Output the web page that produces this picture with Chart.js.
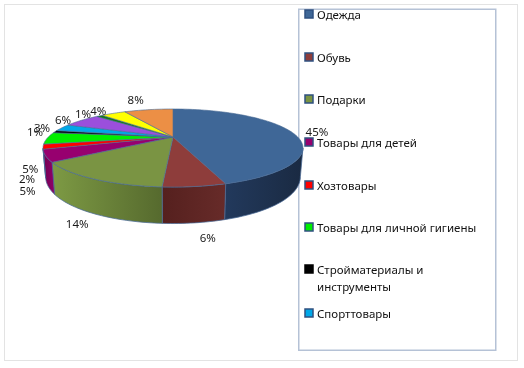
<!DOCTYPE html>
<html><head><meta charset="utf-8">
<style>html,body{margin:0;padding:0;background:#fff}#w{position:relative;width:524px;height:368px}canvas{display:block}</style>
<script src="https://cdn.jsdelivr.net/npm/chart.js@4"></script></head>
<body><div id="w"><canvas id="c" width="524" height="368"></canvas></div>
<script>
const values=[45,6,14,5,2,5,1,3,6,1,4,8];
const legendLabels=['Одежда','Обувь','Подарки','Товары для детей','Хозтовары','Товары для личной гигиены',['Стройматериалы и','инструменты'],'Спорттовары'];
const topColors=['#3f6797','#8e3d3b','#7a9443','#97006f','#ff0000','#00ee00','#000000','#00a8e8','#9b4fdc','#157a15','#ffff00','#ec8f45'];
const sideLight=['#22395c','#672b29','#7d9a44','#8a0066','#d00000','#00c000','#000000','#0088c0','#7a3cb0','#106010','#d0d000','#c07030'];
const sideDark=['#1a2a42','#55201e','#566a2e','#70004f','#b00000','#00a000','#000000','#0070a0','#602c90','#0c500c','#b0b000','#a06020'];
const legendSwatches=topColors.slice(0,8);
const labelNudge=[[26,1],[13,52],[-16,46],[-18,36],[-16,33],[-17,32],[-20,1],[-20,1],[-18.5,0],[-16.5,-1],[-15,-2],[-13,-9]];
const TILT=0.288,PERSP=0.282,DROP=25.5,DROP_FRONT=11,SHRINK=0.98,FONT='11.5px "Noto Sans"';
const WALL_FROM=Math.asin(PERSP),WALL_TO=Math.PI-WALL_FROM;

function proj(arc,a){
  const v=Math.sin(a),s=1/(1-PERSP*v),R=arc.outerRadius;
  return [arc.x+R*Math.cos(a)*s, arc.y+R*TILT*v*s];
}
function projBase(arc,a){
  const p=proj(arc,a),v=Math.sin(a);
  return [arc.x+(p[0]-arc.x)*SHRINK, p[1]+DROP+DROP_FRONT*v];
}
function sweep(a0,a1){
  const n=Math.max(3,Math.ceil((a1-a0)*40)),o=[];
  for(let i=0;i<=n;i++)o.push(a0+(a1-a0)*i/n);
  return o;
}
const pie3d={
  id:'pie3d',
  beforeDatasetDraw(chart){
    const ctx=chart.ctx,arcs=chart.getDatasetMeta(0).data;
    ctx.save();
    ctx.lineJoin='round';
    // walls: only the part of the rim that faces the viewer
    arcs.forEach((arc,i)=>{
      const a0=Math.max(arc.startAngle,WALL_FROM),a1=Math.min(arc.endAngle,WALL_TO);
      if(a1<=a0)return;
      const as=sweep(a0,a1),t=as.map(a=>proj(arc,a)),b=as.map(a=>projBase(arc,a));
      const xs=t.map(p=>p[0]),g=ctx.createLinearGradient(Math.min(...xs),0,Math.max(...xs),0);
      g.addColorStop(0,i===0?sideLight[i]:(i===2?sideLight[i]:sideDark[i]));
      g.addColorStop(1,i===0?sideDark[i]:(i===2?sideDark[i]:sideLight[i]));
      ctx.beginPath();
      t.forEach((p,j)=>j?ctx.lineTo(p[0],p[1]):ctx.moveTo(p[0],p[1]));
      b.reverse().forEach(p=>ctx.lineTo(p[0],p[1]));
      ctx.closePath();
      ctx.fillStyle=g;ctx.fill();
      ctx.strokeStyle='rgba(74,106,149,0.75)';ctx.lineWidth=1;ctx.stroke();
    });
    // top faces
    arcs.forEach((arc,i)=>{
      ctx.beginPath();ctx.moveTo(arc.x,arc.y);
      sweep(arc.startAngle,arc.endAngle).forEach(a=>{const p=proj(arc,a);ctx.lineTo(p[0],p[1]);});
      ctx.closePath();
      ctx.fillStyle=topColors[i];ctx.fill();
      ctx.strokeStyle='rgba(74,106,149,0.6)';ctx.lineWidth=1;ctx.stroke();
    });
    // labels
    ctx.fillStyle='#1a1a1a';ctx.font=FONT;ctx.textAlign='center';ctx.textBaseline='middle';
    arcs.forEach((arc,i)=>{
      const p=proj(arc,(arc.startAngle+arc.endAngle)/2);
      ctx.fillText(values[i]+'%',p[0]+labelNudge[i][0],p[1]+labelNudge[i][1]);
    });
    ctx.restore();
    return false;
  },
  beforeDraw(chart){
    const ctx=chart.ctx;
    ctx.save();
    ctx.fillStyle='#fff';ctx.fillRect(0,0,524,368);
    ctx.strokeStyle='#e3e3e3';ctx.lineWidth=1;ctx.strokeRect(4.5,4.5,513,356);
    ctx.strokeStyle='#b5c2d6';ctx.lineWidth=1.5;ctx.strokeRect(298.75,9.25,197,341);
    ctx.restore();
  },
  afterDraw(chart){
    const ctx=chart.ctx,rows=[14,57,99,142,185,227,269,313];
    ctx.save();
    ctx.font=FONT;ctx.textBaseline='middle';ctx.textAlign='left';
    legendLabels.forEach((l,i)=>{
      const y=rows[i];
      ctx.fillStyle=legendSwatches[i];ctx.fillRect(305,y-4,8,8);
      ctx.strokeStyle=i===6?'#000':'#2f5080';ctx.lineWidth=1.5;ctx.strokeRect(305,y-4,8,8);
      ctx.fillStyle='#111';
      [].concat(l).forEach((s,j)=>ctx.fillText(s,317,y+2+j*16.5));
    });
    ctx.restore();
  }
};
new Chart(document.getElementById('c'),{
  type:'pie',
  data:{labels:values.map((v,i)=>[].concat(legendLabels[i]||'').join(' ')),
    datasets:[{data:values,backgroundColor:topColors,borderWidth:0,hoverOffset:0}]},
  options:{responsive:false,animation:false,
    layout:{padding:{left:0,right:178,top:12.3,bottom:106.3}},
    plugins:{legend:{display:false},tooltip:{enabled:false}}},
  plugins:[pie3d]
});
</script></body></html>
